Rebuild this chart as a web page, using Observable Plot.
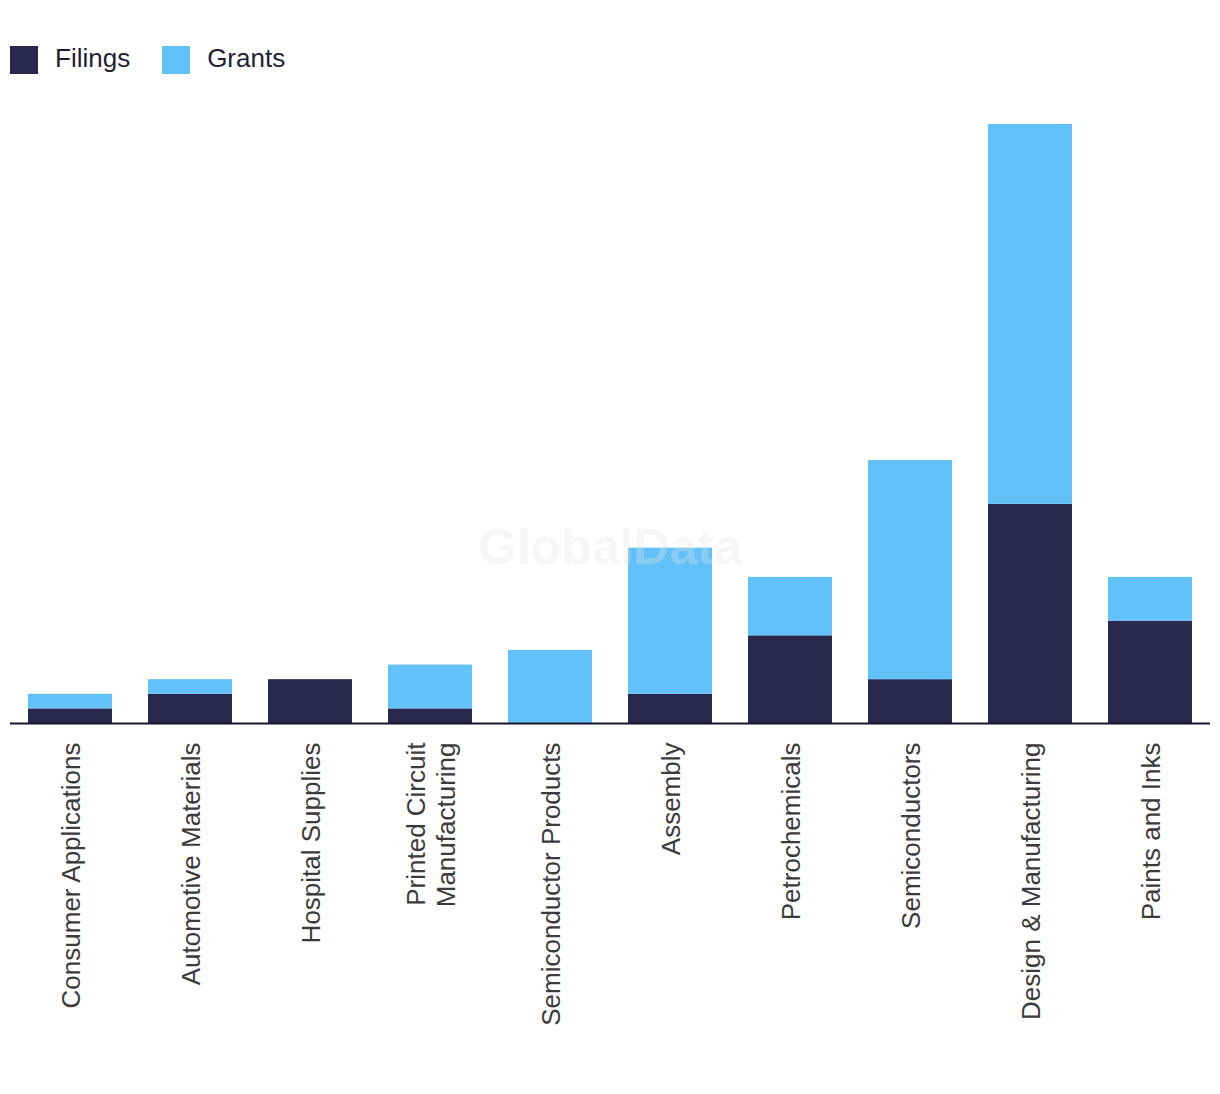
<!DOCTYPE html>
<html>
<head>
<meta charset="utf-8">
<script src="https://cdn.jsdelivr.net/npm/d3@7"></script>
<script src="https://cdn.jsdelivr.net/npm/@observablehq/plot@0.6"></script>
<style>
  body { margin: 0; background: #fff; font-family: "Liberation Sans", Arial, sans-serif; }
  #wrap { position: relative; width: 1220px; height: 1094px; }
  #legend { height: 100px; box-sizing: border-box; padding-top: 46px; padding-left: 10px; display: flex; align-items: flex-start; }
  .item { display: flex; align-items: center; margin-right: 32px; font-size: 26px; color: #1f1f33; height: 28px; }
  .item span { position: relative; top: -2px; }
  .sw { width: 28px; height: 28px; margin-right: 17px; }
  #wm { position: absolute; left: 0; width: 1220px; top: 547px; transform: translateY(-50%); text-align: center;
        font: bold 50px "Liberation Sans", Arial, sans-serif; color: rgb(228,228,228); opacity: 0.3; pointer-events: none; }
</style>
</head>
<body>
<div id="wrap">
  <div id="legend"></div>
  <div id="chart"></div>
  <div id="wm">GlobalData</div>
</div>
<script>
const categories = ["Consumer Applications","Automotive Materials","Hospital Supplies","Printed Circuit\nManufacturing","Semiconductor Products","Assembly","Petrochemicals","Semiconductors","Design & Manufacturing","Paints and Inks"];
const filings = [1, 2, 3, 1, 0, 2, 6, 3, 15, 7];
const grants  = [1, 1, 0, 3, 5, 10, 4, 15, 26, 3];
const seriesNames = ["Filings", "Grants"];
const seriesColors = ["#27284b", "#63c1f9"];

const data = [];
categories.forEach((c, i) => data.push({category: c, series: "Filings", value: filings[i]}));
categories.forEach((c, i) => data.push({category: c, series: "Grants", value: grants[i]}));

const legend = document.getElementById("legend");
seriesNames.forEach((s, i) => {
  const it = document.createElement("div");
  it.className = "item";
  it.innerHTML = `<div class="sw" style="background:${seriesColors[i]}"></div><span>${s}</span>`;
  legend.appendChild(it);
});

const chart = Plot.plot({
  width: 1220,
  height: 994,
  marginTop: 24,
  marginBottom: 371,
  marginLeft: 10,
  marginRight: 10,
  style: {fontFamily: "Liberation Sans, Arial, sans-serif", background: "#fff"},
  x: {domain: categories, paddingInner: 0.3, paddingOuter: 0.15, label: null},
  y: {domain: [0, 41], axis: null},
  color: {domain: seriesNames, range: seriesColors},
  marks: [
    Plot.barY(data, Plot.stackY({order: null}, {x: "category", y: "value", fill: "series", z: "series"})),
    Plot.ruleY([0], {stroke: "#16162c", strokeWidth: 2}),
    Plot.axisX({tickSize: 0, tickPadding: 19, tickRotate: -90, fontSize: 26, fill: "#3b3b3b", lineHeight: 1.15, label: null})
  ]
});
document.getElementById("chart").appendChild(chart);
</script>
</body>
</html>
